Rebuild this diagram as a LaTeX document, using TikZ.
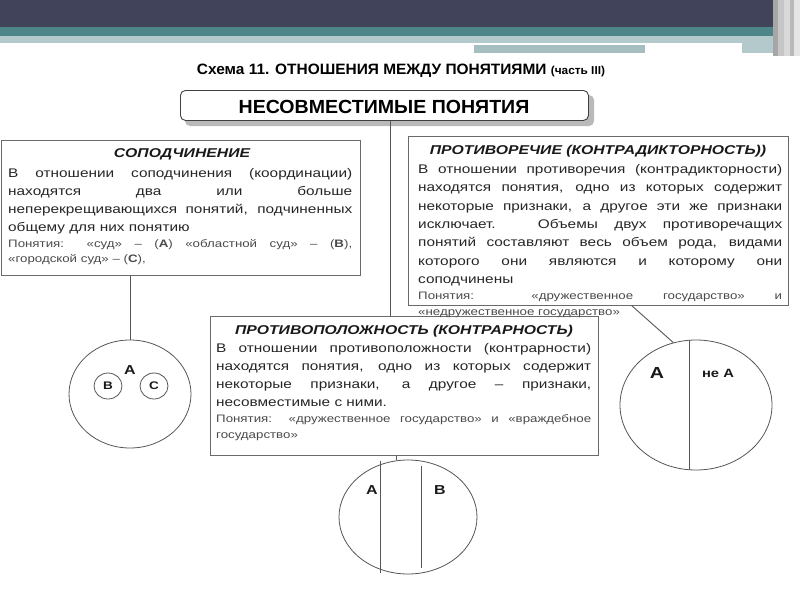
\documentclass[tikz,border=0pt]{standalone}
\usepackage{fontspec}
\setmainfont{Liberation Sans}[FakeStretch=1.23]
\newfontfamily\narrowf{Liberation Sans}[FakeStretch=1.03]
\usetikzlibrary{shapes.geometric}
\definecolor{darkband}{HTML}{40435A}
\definecolor{tealband}{HTML}{4E8589}
\definecolor{lightband}{HTML}{B3C9CC}
\definecolor{lightband2}{HTML}{A7BEC1}
\definecolor{framec}{HTML}{6A6A6A}
\definecolor{linec}{HTML}{555555}
\definecolor{txtc}{HTML}{262626}
\definecolor{smlc}{HTML}{4A4A4A}
\newcommand\jl[2]{\makebox[#1][s]{#2}}
\newcommand\bodyf{\fontsize{12.5}{15}\selectfont}
\newcommand\smallf{\fontsize{10.8}{13}\selectfont}
\newcommand\boxtitlef{\fontsize{12.8}{15}\selectfont\bfseries\itshape}
\tikzset{
  txt/.style={inner sep=0, anchor=base west, font=\bodyf, text=txtc},
  sml/.style={inner sep=0, anchor=base west, font=\smallf, text=smlc},
  ttl/.style={inner sep=0, anchor=base, font=\boxtitlef, text=black!90},
  frame/.style={draw=framec, line width=0.9pt, inner sep=0, anchor=north west, fill=white},
  conn/.style={draw=linec, line width=0.9pt},
  ell/.style={ellipse, draw=linec, line width=0.8pt, inner sep=0},
  lab/.style={font=\fontsize{13}{15}\selectfont\bfseries, inner sep=0, text=black!90},
}
\begin{document}
\begin{tikzpicture}[x=1pt,y=-1pt]
\useasboundingbox (0,0) rectangle (800,600);
% banner
\fill[darkband] (0,0) rectangle (800,27);
\fill[tealband] (0,27) rectangle (800,36);
\fill[lightband] (0,36) rectangle (775,43);
\fill[lightband2] (474,43) rectangle (645,53);
\fill[lightband] (742,43) rectangle (775,53);
\fill[white] (0,43.2) rectangle (742,45.2);
\fill[gray!70] (773,0) rectangle (778,56);
\fill[gray!45] (778,0) rectangle (784,56);
\fill[gray!30] (784,0) rectangle (790,56);
\fill[gray!55] (790,0) rectangle (794,56);
\fill[gray!20] (794,0) rectangle (800,56);

% header
\node[inner sep=0, anchor=base] (head) at (401,74)
  {\narrowf\fontsize{15}{17}\selectfont\bfseries Схема 11. ОТНОШЕНИЯ МЕЖДУ ПОНЯТИЯМИ {\fontsize{11.5}{13}\selectfont (часть III)}};

% top box with shadow
\fill[gray!55, rounded corners=5pt] (185,95) rectangle (594,126);
\node[draw=black!75, line width=0.9pt, fill=white, rounded corners=5pt, inner sep=0,
      minimum width=408pt, minimum height=30pt, anchor=north west] (top) at (180,90) {};
\node[inner sep=0, anchor=base] (toptxt) at (384,113)
  {\narrowf\fontsize{19}{21}\selectfont\bfseries НЕСОВМЕСТИМЫЕ ПОНЯТИЯ};

% boxes
\node[frame, minimum width=359pt, minimum height=135pt] (sub) at (1,140) {};
\node[frame, minimum width=380pt, minimum height=169pt] (contr) at (408,136) {};
\node[frame, minimum width=388pt, minimum height=139pt] (mid) at (210,316) {};

% connectors
\draw[conn] ([xshift=6pt]top.south) -- ([xshift=6pt]top.south |- mid.north);

% ellipses
\node[ell, minimum width=122pt, minimum height=108pt] (lc) at (130,394) {};
\node[ell, minimum width=28pt, minimum height=26pt] (lb) at (108,386) {};
\node[ell, minimum width=28pt, minimum height=26pt] (lcc) at (154,386) {};
\node[ell, minimum width=152pt, minimum height=130pt] (rc) at (696,405) {};
\node[ell, minimum width=138pt, minimum height=114pt] (bc) at (408,517) {};

\draw[conn] (lc.north |- sub.south) -- (lc.north);
\draw[conn] ([xshift=224pt]contr.south west) -- (rc.110);
\draw[conn] ([xshift=-8pt]mid.south) -- ([xshift=-8pt]mid.south |- bc.north);

% inner lines
\draw[conn] ([xshift=-7pt]rc.north) -- ([xshift=-7pt]rc.south);
\draw[conn] ([xshift=-28pt,yshift=-1pt]bc.north) -- ([xshift=-28pt,yshift=1pt]bc.south);
\draw[conn] ([xshift=13pt,yshift=-6pt]bc.north) -- ([xshift=13pt,yshift=6pt]bc.south);

% labels
\node[lab] (la) at (130,370) {А};
\node[lab, font=\fontsize{11}{13}\selectfont\bfseries] (lbt) at (lb) {В};
\node[lab, font=\fontsize{11}{13}\selectfont\bfseries] (lct) at (lcc) {С};
\node[lab, font=\fontsize{16}{18}\selectfont\bfseries] (ra) at (657,373) {А};
\node[lab, font=\fontsize{12}{14}\selectfont\bfseries] (rna) at (718,373) {не А};
\node[lab] (ba) at (372,490) {А};
\node[lab] (bb) at (440,490) {В};

% left box text
\node[ttl] (subt) at (182,157) {СОПОДЧИНЕНИЕ};
\node[txt] (s1) at (8,177) {\jl{344pt}{В отношении соподчинения (координации)}};
\node[txt] (s2) at (8,195) {\jl{344pt}{находятся два или больше}};
\node[txt] (s3) at (8,213) {\jl{344pt}{неперекрещивающихся понятий, подчиненных}};
\node[txt] (s4) at (8,231) {общему для них понятию};
\node[sml] (s5) at (8,247) {\jl{344pt}{Понятия: «суд» – (\textbf{А}) «областной суд» – (\textbf{В}),}};
\node[sml] (s6) at (8,262) {«городской суд» – (\textbf{С}),};

% right box text
\node[ttl] (ct) at (598,154) {ПРОТИВОРЕЧИЕ (КОНТРАДИКТОРНОСТЬ))};
\node[txt] (c1) at (418,173) {\jl{364pt}{В отношении противоречия (контрадикторности)}};
\node[txt] (c2) at (418,191) {\jl{364pt}{находятся понятия, одно из которых содержит}};
\node[txt] (c3) at (418,210) {\jl{364pt}{некоторые признаки, а другое эти же признаки}};
\node[txt] (c4) at (418,228) {\jl{364pt}{исключает. Объемы двух противоречащих}};
\node[txt] (c5) at (418,246) {\jl{364pt}{понятий составляют весь объем рода, видами}};
\node[txt] (c6) at (418,265) {\jl{364pt}{которого они являются и которому они}};
\node[txt] (c7) at (418,283) {соподчинены};
\node[sml] (c8) at (418,299) {\jl{364pt}{Понятия: «дружественное государство» и}};
\node[sml] (c9) at (418,315) {«недружественное государство»};

% middle box text
\node[ttl] (mt) at (404,334) {ПРОТИВОПОЛОЖНОСТЬ (КОНТРАРНОСТЬ)};
\node[txt] (m1) at (216,352) {\jl{375pt}{В отношении противоположности (контрарности)}};
\node[txt] (m2) at (216,370) {\jl{375pt}{находятся понятия, одно из которых содержит}};
\node[txt] (m3) at (216,388) {\jl{375pt}{некоторые признаки, а другое – признаки,}};
\node[txt] (m4) at (216,406) {несовместимые с ними.};
\node[sml] (m5) at (216,422) {\jl{375pt}{Понятия: «дружественное государство» и «враждебное}};
\node[sml] (m6) at (216,438) {государство»};
\end{tikzpicture}
\end{document}
